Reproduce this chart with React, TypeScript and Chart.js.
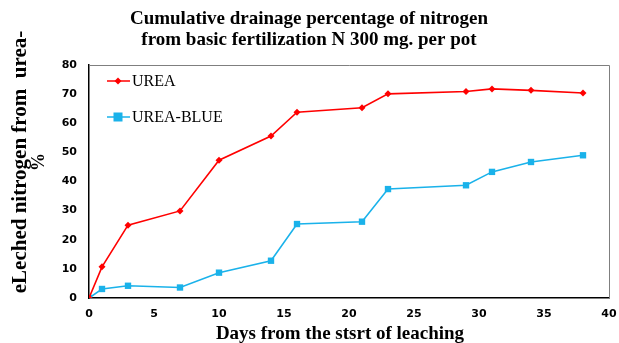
import React, { useEffect, useRef } from "react";
import { Chart, registerables } from "chart.js";

Chart.register(...registerables);

const days = [0, 1, 3, 7, 10, 14, 16, 21, 23, 29, 31, 34, 38];
const urea = [0, 10.7, 25.0, 29.9, 47.3, 55.6, 63.8, 65.3, 70.1, 70.9, 71.8, 71.3, 70.4];
const ureaBlue = [0, 3.1, 4.2, 3.6, 8.7, 12.8, 25.4, 26.2, 37.4, 38.7, 43.3, 46.7, 49.0];

const titleLines = ["Cumulative drainage percentage of nitrogen", "from basic fertilization N 300 mg. per pot"];
const yTitleLines = ["eLeched nitrogen from  urea-", "%"];
const xTitle = "Days from the stsrt of leaching";
const seriesNames = ["UREA", "UREA-BLUE"];

const RED = "#ff0000";
const BLUE = "#1ab2ea";

const decorPlugin = {
  id: "decor",
  afterDraw(chart: any) {
    const ctx = chart.ctx;
    const ca = chart.chartArea;
    ctx.save();
    // frame
    ctx.strokeStyle = "#7f7f7f";
    ctx.lineWidth = 1;
    ctx.beginPath();
    ctx.moveTo(ca.left, ca.top + 0.5);
    ctx.lineTo(ca.right + 0.5, ca.top + 0.5);
    ctx.lineTo(ca.right + 0.5, ca.bottom);
    ctx.stroke();
    // title
    ctx.fillStyle = "#000";
    ctx.font = "bold 19px 'Liberation Serif'";
    ctx.textAlign = "center";
    ctx.textBaseline = "middle";
    ctx.fillText(titleLines[0], 309, 19);
    ctx.fillText(titleLines[1], 309, 40);
    // x title
    ctx.font = "bold 19px 'Liberation Serif'";
    ctx.fillText(xTitle, 340, 334);
    // y title
    ctx.save();
    ctx.translate(21, 162);
    ctx.rotate(-Math.PI / 2);
    ctx.font = "bold 21px 'Liberation Serif'";
    ctx.fillText(yTitleLines[0], 0, 0);
    ctx.font = "bold 18px 'Liberation Serif'";
    ctx.fillText(yTitleLines[1], 0, 18);
    ctx.restore();
    // legend
    const entries = [
      { name: seriesNames[0], color: RED, y: 81, style: "rectRot", r: 3.5 },
      { name: seriesNames[1], color: BLUE, y: 117, style: "rect", r: 4.5 },
    ];
    ctx.font = "16px 'Liberation Serif'";
    ctx.textAlign = "left";
    for (const e of entries) {
      ctx.strokeStyle = e.color;
      ctx.lineWidth = 1.5;
      ctx.beginPath();
      ctx.moveTo(107, e.y);
      ctx.lineTo(130, e.y);
      ctx.stroke();
      ctx.fillStyle = e.color;
      if (e.style === "rect") {
        ctx.fillRect(118 - e.r, e.y - e.r, e.r * 2, e.r * 2);
      } else {
        ctx.beginPath();
        ctx.moveTo(118, e.y - e.r);
        ctx.lineTo(118 + e.r, e.y);
        ctx.lineTo(118, e.y + e.r);
        ctx.lineTo(118 - e.r, e.y);
        ctx.closePath();
        ctx.fill();
      }
      ctx.fillStyle = "#000";
      ctx.fillText(e.name, 132, e.y + 1);
    }
    ctx.restore();
  },
};

export default function App() {
  const ref = useRef<HTMLCanvasElement>(null);
  useEffect(() => {
    document.body.style.margin = "0";
    const chart = new Chart(ref.current!, {
      type: "line",
      data: {
        datasets: [
          {
            label: seriesNames[0],
            data: days.map((d, i) => ({ x: d, y: urea[i] })),
            borderColor: RED,
            backgroundColor: RED,
            borderWidth: 1.6,
            pointStyle: "rectRot",
            pointRadius: 3.5,
            pointBorderWidth: 0,
            tension: 0,
          },
          {
            label: seriesNames[1],
            data: days.map((d, i) => ({ x: d, y: ureaBlue[i] })),
            borderColor: BLUE,
            backgroundColor: BLUE,
            borderWidth: 1.6,
            pointStyle: "rect",
            pointRadius: 4.5,
            pointBorderWidth: 0,
            tension: 0,
          },
        ],
      },
      options: {
        animation: false,
        responsive: false,
        layout: { padding: { top: 65, right: 10, left: 0, bottom: 0 } },
        plugins: { legend: { display: false }, title: { display: false }, tooltip: { enabled: false } },
        scales: {
          x: {
            type: "linear",
            min: 0,
            max: 40,
            grid: { display: false, drawTicks: false },
            border: { display: true, color: "#000", width: 1.5 },
            ticks: {
              stepSize: 5,
              color: "#000",
              padding: 10,
              font: { family: "'DejaVu Sans'", weight: "bold", size: 11 },
            },
            afterFit(scale: any) {
              scale.height = 45;
              scale.paddingRight = 0;
              scale.paddingLeft = 0;
            },
          },
          y: {
            min: 0,
            max: 80,
            grid: { display: false, drawTicks: false },
            border: { display: true, color: "#000", width: 1.5 },
            ticks: {
              stepSize: 10,
              color: "#000",
              padding: 12,
              font: { family: "'DejaVu Sans'", weight: "bold", size: 11 },
            },
            afterFit(scale: any) {
              scale.width = 89;
              scale.paddingTop = 0;
              scale.paddingBottom = 0;
            },
          },
        },
      },
      plugins: [decorPlugin],
    } as any);
    return () => chart.destroy();
  }, []);
  return (
    <div style={{ position: "absolute", left: 0, top: 0, width: 619, height: 343 }}>
      <canvas ref={ref} width={619} height={343} />
    </div>
  );
}
